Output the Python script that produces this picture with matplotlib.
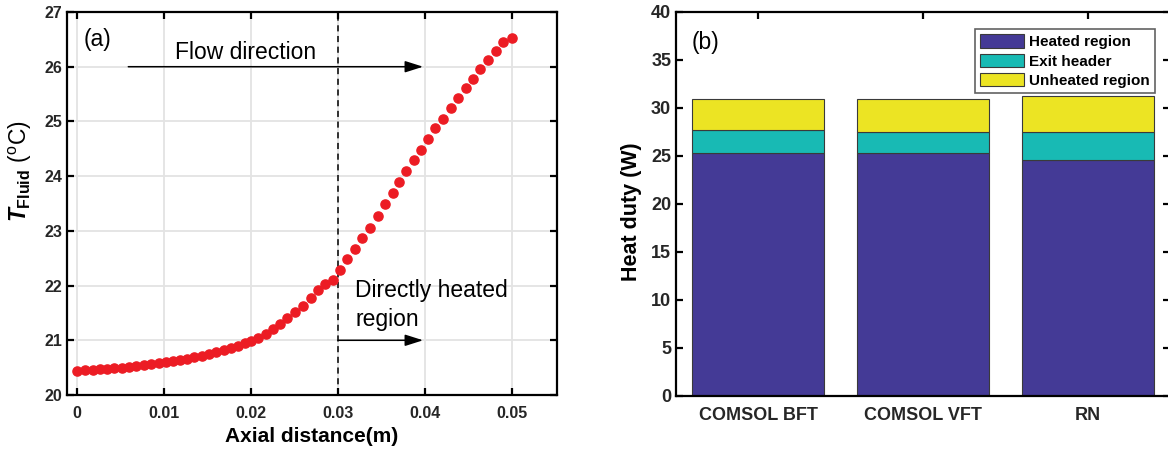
import matplotlib
matplotlib.use("Agg")
import matplotlib.pyplot as plt
import numpy as np

plt.rcParams['font.family'] = ['Liberation Sans', 'DejaVu Sans']
plt.rcParams['mathtext.fontset'] = 'custom'
plt.rcParams['mathtext.rm'] = 'Liberation Sans'
plt.rcParams['mathtext.it'] = 'Liberation Sans:bold:italic'
plt.rcParams['mathtext.bf'] = 'Liberation Sans:bold'

# ---------------- data: panel (a) ----------------
axial_x = [0.0, 0.00095, 0.0018, 0.0026, 0.0035, 0.0043, 0.0052, 0.0060, 0.0068,
           0.0077, 0.0085, 0.0094, 0.0102, 0.0110, 0.0118, 0.0127, 0.0135, 0.0144,
           0.0152, 0.0160, 0.0169, 0.0177, 0.0185, 0.0193, 0.0200, 0.0208, 0.0217,
           0.0225, 0.0234, 0.0242, 0.0251, 0.0260, 0.0269, 0.0277, 0.0285, 0.0294,
           0.0302, 0.0311, 0.0320, 0.0328, 0.0337, 0.0346, 0.0354, 0.0363, 0.0370,
           0.0378, 0.0387, 0.0396, 0.0404, 0.0412, 0.0421, 0.0430, 0.0438, 0.0447,
           0.0455, 0.0464, 0.0473, 0.0482, 0.0490, 0.0500]
t_fluid = [20.44, 20.45, 20.46, 20.47, 20.48, 20.49, 20.50, 20.51, 20.53,
           20.54, 20.56, 20.58, 20.60, 20.62, 20.64, 20.66, 20.69, 20.72,
           20.75, 20.78, 20.82, 20.86, 20.90, 20.95, 20.99, 21.05, 21.12,
           21.20, 21.29, 21.40, 21.51, 21.63, 21.77, 21.92, 22.02, 22.10,
           22.29, 22.48, 22.67, 22.87, 23.06, 23.28, 23.49, 23.69, 23.89,
           24.09, 24.29, 24.47, 24.68, 24.88, 25.05, 25.24, 25.43, 25.61,
           25.78, 25.96, 26.12, 26.29, 26.45, 26.53]
x_ticks_a = [0, 0.01, 0.02, 0.03, 0.04, 0.05]
x_ticklabels_a = ['0', '0.01', '0.02', '0.03', '0.04', '0.05']
y_ticks_a = [20, 21, 22, 23, 24, 25, 26, 27]

# ---------------- data: panel (b) ----------------
methods = ['COMSOL BFT', 'COMSOL VFT', 'RN']
heated_region = [25.35, 25.28, 24.54]
exit_header = [2.35, 2.22, 2.96]       # segment heights
unheated_region = [3.25, 3.45, 3.70]   # segment heights
series_names = ['Heated region', 'Exit header', 'Unheated region']
y_ticks_b = [0, 5, 10, 15, 20, 25, 30, 35, 40]

W, H = 1168, 453
fig = plt.figure(figsize=(W / 100, H / 100), dpi=100)

def fax(l, t, r, b):
    return [l / W, 1 - b / H, (r - l) / W, (b - t) / H]

spine_lw = 1.6

# ---------------- panel (a) ----------------
ax1 = fig.add_axes(fax(67, 12, 557, 395))
ax1.set_xlim(-0.00115, 0.0552)
ax1.set_ylim(20, 27)
ax1.set_xticks(x_ticks_a)
ax1.set_xticklabels(x_ticklabels_a)
ax1.set_yticks(y_ticks_a)
ax1.grid(True, color='#e3e3e3', lw=1.3)
ax1.set_axisbelow(True)
ax1.axvline(0.03, color='black', ls=(0, (4, 3)), lw=1.1, zorder=2)
ax1.plot(axial_x, t_fluid, 'o', color='#ec1c24', ms=6.6, mec='#ec1c24', zorder=3)

ax1.annotate('', xy=(0.0398, 26), xytext=(0.0059, 26),
             arrowprops=dict(arrowstyle='-|>,head_length=1.1,head_width=0.35',
                             color='black', lw=1.1, shrinkA=0, shrinkB=0))
ax1.annotate('', xy=(0.0398, 21), xytext=(0.03, 21),
             arrowprops=dict(arrowstyle='-|>,head_length=1.1,head_width=0.35',
                             color='black', lw=1.1, shrinkA=0, shrinkB=0))
ax1.text(0.0113, 26.14, 'Flow direction', fontsize=16.5, va='baseline', ha='left')
ax1.text(0.0320, 21.79, 'Directly heated', fontsize=16.5, va='baseline', ha='left')
ax1.text(0.0320, 21.27, 'region', fontsize=16.5, va='baseline', ha='left')
ax1.text(0.0008, 26.50, '(a)', fontsize=16.5, va='center', ha='left')

ax1.set_xlabel('Axial distance(m)', fontsize=15, fontweight='bold', labelpad=4)
ax1.set_ylabel(r'$\mathit{T}_{\mathbf{Fluid}}\ (^{\mathrm{o}}\mathrm{C})$', fontsize=16.5)
ax1.yaxis.set_label_coords(-0.068, 0.585)

for s in ax1.spines.values():
    s.set_linewidth(spine_lw)
ax1.tick_params(direction='in', length=5, width=1.6, top=True, right=True,
                labelsize=11.5)
ax1.tick_params(axis='x', pad=8)
for lab in ax1.get_xticklabels() + ax1.get_yticklabels():
    lab.set_fontweight('bold')
    lab.set_color('#262626')

# ---------------- panel (b) ----------------
ax2 = fig.add_axes(fax(676, 12, 1170, 396))
pos = np.arange(1, len(methods) + 1)
colors = ['#443a96', '#18bab4', '#ece423']
bottom = np.zeros(len(methods))
handles = []
for vals, c, name in zip([heated_region, exit_header, unheated_region], colors, series_names):
    b = ax2.bar(pos, vals, 0.8, bottom=bottom, color=c, edgecolor='#3a3a3a',
                lw=0.8, label=name, zorder=2)
    handles.append(b)
    bottom = bottom + np.array(vals)
ax2.set_xlim(0.5, 3.5)
ax2.set_ylim(0, 40)
ax2.set_xticks(pos)
ax2.set_xticklabels(methods)
ax2.set_yticks(y_ticks_b)
for s in ax2.spines.values():
    s.set_linewidth(spine_lw)
ax2.tick_params(direction='in', length=5, width=1.6, top=True, right=True,
                labelsize=13)
for lab in ax2.get_xticklabels() + ax2.get_yticklabels():
    lab.set_fontweight('bold')
    lab.set_color('#262626')
ax2.tick_params(axis='x', pad=8)
ax2.set_ylabel('Heat duty (W)', fontsize=15.5, fontweight='bold')
ax2.yaxis.set_label_coords(-0.068, 0.479)
ax2.text(0.597, 36.8, '(b)', fontsize=16.5, va='center', ha='left')

leg = ax2.legend(handles=handles, loc='upper right',
                 bbox_to_anchor=(1155 / W, 1 - 29 / H), bbox_transform=fig.transFigure,
                 prop=dict(weight='bold', size=11), frameon=True, fancybox=False,
                 edgecolor='#3a3a3a', handlelength=2.9, handleheight=0.95,
                 handletextpad=0.3, labelspacing=0.3, borderpad=0.35,
                 borderaxespad=0)
leg.get_frame().set_linewidth(1.2)

fig.savefig('out.png', dpi=100)
